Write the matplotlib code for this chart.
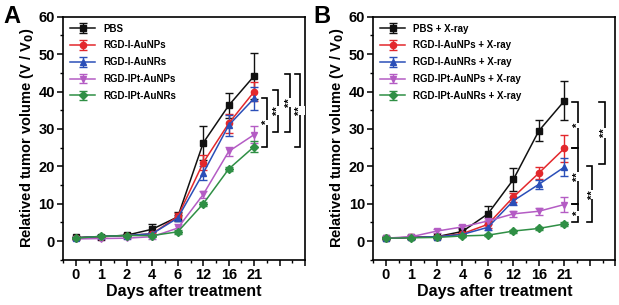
import matplotlib
matplotlib.use("Agg")
import matplotlib.pyplot as plt
from matplotlib.ticker import MultipleLocator

plt.rcParams["font.family"] = ["Liberation Sans", "DejaVu Sans"]
plt.rcParams["font.weight"] = "bold"

DAYS = ["0", "1", "2", "4", "6", "12", "16", "21"]
COLORS = ["#111111", "#e3282c", "#2b4fb8", "#b45cc4", "#2f8f45"]
MARKERS = ["s", "o", "^", "v", "D"]

NAMES_A = ["PBS", "RGD-I-AuNPs", "RGD-I-AuNRs", "RGD-IPt-AuNPs", "RGD-IPt-AuNRs"]
NAMES_B = [n + " + X-ray" for n in NAMES_A]

MEAN_A = [
    [1.0, 1.2, 1.6, 3.2, 6.5, 26.3, 36.3, 44.2],
    [0.8, 1.2, 1.5, 2.0, 6.6, 21.0, 31.5, 40.0],
    [0.8, 1.3, 1.5, 2.0, 6.2, 18.2, 31.0, 38.2],
    [0.6, 0.7, 0.8, 1.2, 3.5, 12.5, 24.0, 28.5],
    [0.8, 1.3, 1.5, 1.5, 2.5, 10.0, 19.3, 25.3],
]
ERR_A = [
    [0.2, 0.3, 0.3, 1.4, 1.2, 4.5, 3.3, 6.1],
    [0.2, 0.3, 0.3, 0.5, 1.0, 2.0, 2.5, 2.5],
    [0.2, 0.3, 0.3, 0.5, 0.8, 1.8, 2.8, 3.0],
    [0.2, 0.3, 0.3, 0.5, 1.0, 1.0, 1.2, 2.2],
    [0.2, 0.3, 0.3, 0.3, 0.5, 0.6, 0.6, 1.5],
]
MEAN_B = [
    [0.8, 1.0, 1.2, 2.6, 7.3, 16.5, 29.5, 37.5],
    [0.8, 1.0, 1.2, 2.0, 4.5, 11.8, 18.2, 24.8],
    [0.8, 1.0, 1.2, 1.8, 3.7, 10.8, 15.2, 19.8],
    [0.8, 1.2, 2.7, 3.8, 5.4, 7.3, 8.0, 9.8],
    [0.8, 0.9, 1.0, 1.4, 1.6, 2.7, 3.4, 4.6],
]
ERR_B = [
    [0.2, 0.3, 0.3, 0.8, 2.0, 3.0, 2.8, 5.2],
    [0.2, 0.2, 0.3, 0.5, 1.0, 1.2, 1.5, 3.5],
    [0.2, 0.2, 0.3, 0.5, 0.8, 1.0, 1.2, 2.5],
    [0.2, 0.5, 0.5, 0.5, 0.8, 0.8, 1.0, 2.0],
    [0.2, 0.2, 0.2, 0.3, 0.3, 0.4, 0.4, 0.6],
]

# significance brackets: x position, top, bottom, label
BRACKETS_A = [
    (7.50, 38.4, 25.3, "*"),
    (7.92, 40.5, 29.3, "**"),
    (8.40, 44.8, 29.3, "**"),
    (8.80, 44.8, 25.1, "**"),
]
BRACKETS_B = [
    (7.52, 37.3, 24.8, "*"),
    (7.52, 24.8, 9.9, "**"),
    (7.52, 9.9, 5.0, "*"),
    (8.10, 20.0, 5.0, "**"),
    (8.58, 37.3, 20.5, "**"),
]


def draw_panel(ax, names, means, errs, brackets, letter):
    x = list(range(len(DAYS)))
    for name, m, e, c, mk in zip(names, means, errs, COLORS, MARKERS):
        ax.errorbar(x, m, yerr=e, color=c, marker=mk, markersize=4.5 if mk != "D" else 3.8,
                    linewidth=1.1, elinewidth=1.0, capsize=3, capthick=1.0, label=name)
    for bx, top, bottom, label in brackets:
        ax.plot([bx - 0.2, bx, bx, bx - 0.2], [top, top, bottom, bottom], color="black", linewidth=1.2,
                solid_joinstyle="miter")
        ax.text(bx, (top + bottom) / 2, label, rotation=90, ha="center", va="center",
                fontsize=8, fontweight="bold",
                bbox=dict(facecolor="white", edgecolor="none", pad=0.2))
    ax.set_xlim(-0.5, 9)
    ax.set_ylim(-5, 60)
    ax.set_xticks(range(10))
    ax.set_xticklabels(DAYS + ["", ""])
    ax.xaxis.set_minor_locator(MultipleLocator(0.5))
    ax.yaxis.set_major_locator(MultipleLocator(10))
    ax.yaxis.set_minor_locator(MultipleLocator(5))
    ax.tick_params(axis="both", which="major", direction="out", length=4, width=1.1, labelsize=10.5, pad=2)
    ax.tick_params(axis="both", which="minor", direction="out", length=2, width=1.0)
    for lab in ax.get_xticklabels() + ax.get_yticklabels():
        lab.set_fontweight("bold")
    for sp in ax.spines.values():
        sp.set_linewidth(1.2)
    ax.set_xlabel("Days after treatment", fontsize=11.5, fontweight="bold", labelpad=1)
    ax.set_ylabel(r"Relatived tumor volume (V / V$_\mathbf{0}$)", fontsize=10.5, fontweight="bold", labelpad=2)
    ax.legend(loc="upper left", frameon=False, handlelength=2.6, labelspacing=0.7,
              borderaxespad=0.3, prop={"weight": "bold", "size": 7})
    ax.figure.text(ax.get_position().x0 - 0.097, 0.985, letter, fontsize=17, fontweight="bold",
                   ha="left", va="top")


def main() -> None:
    fig = plt.figure(figsize=(6.19, 3.05), dpi=100)
    ax_a = fig.add_axes([0.102, 0.148, 0.391, 0.797])
    ax_b = fig.add_axes([0.603, 0.148, 0.391, 0.797])
    draw_panel(ax_a, NAMES_A, MEAN_A, ERR_A, BRACKETS_A, "A")
    draw_panel(ax_b, NAMES_B, MEAN_B, ERR_B, BRACKETS_B, "B")
    fig.savefig("out.png", dpi=100)
    plt.close(fig)


if __name__ == "__main__":
    main()
